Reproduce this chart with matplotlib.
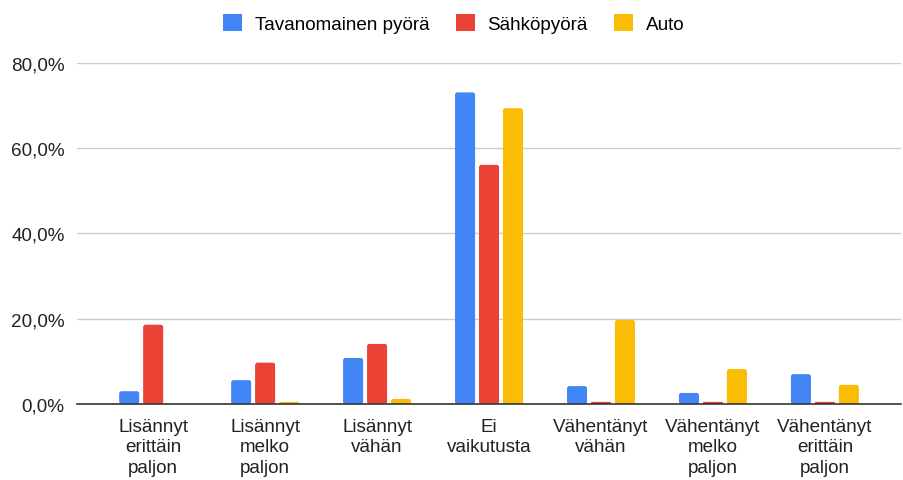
import numpy as np
import matplotlib.pyplot as plt
from matplotlib.patches import FancyBboxPatch
from matplotlib.ticker import FuncFormatter

plt.rcParams['font.family'] = ['Liberation Sans', 'DejaVu Sans']

categories = ['Lisännyt\nerittäin\npaljon', 'Lisännyt\nmelko\npaljon', 'Lisännyt\nvähän',
              'Ei\nvaikutusta', 'Vähentänyt\nvähän', 'Vähentänyt\nmelko\npaljon',
              'Vähentänyt\nerittäin\npaljon']
tavanomainen = [3.0, 5.6, 10.8, 73.1, 4.2, 2.6, 7.0]
sahko = [18.6, 9.7, 14.1, 56.1, 0.5, 0.5, 0.5]
auto = [0.0, 0.5, 1.2, 69.4, 19.7, 8.2, 4.5]
series_names = ['Tavanomainen pyörä', 'Sähköpyörä', 'Auto']
colors = ['#4285F4', '#EA4335', '#FBBC04']

fig = plt.figure(figsize=(9.04, 4.81), dpi=100)
ax = fig.add_axes([0.0852, 0.158, 0.9115, 0.709])

x = np.arange(len(categories))
w = 0.179
step = 0.214
aspect = 26.3  # y units per x unit on screen, for round corners
for i, (vals, name, c) in enumerate(zip([tavanomainen, sahko, auto], series_names, colors)):
    bars = ax.bar(x + (i - 1) * step, vals, width=w, color=c, label=name, zorder=3)
    # swap plain rectangles for slightly rounded ones
    for b in bars:
        h = b.get_height()
        if h <= 0:
            continue
        r = min(0.022, h / aspect / 2)
        fb = FancyBboxPatch((b.get_x(), b.get_y()), b.get_width(), h,
                            boxstyle=f'round,pad=0,rounding_size={r}',
                            mutation_aspect=aspect, facecolor=c, edgecolor='none', zorder=3)
        ax.add_patch(fb)
        b.set_visible(False)

ax.set_xlim(-0.68, 6.68)
ax.set_ylim(0, 80)
ax.set_yticks([0, 20, 40, 60, 80])
ax.yaxis.set_major_formatter(FuncFormatter(lambda v, p: f'{v:.1f}%'.replace('.', ',')))
ax.set_xticks(x)
ax.set_xticklabels(categories, fontsize=13.6, color='#222222', linespacing=1.27)
ax.tick_params(axis='y', labelsize=13.6, labelcolor='#222222', length=0, pad=9)
ax.tick_params(axis='x', length=0, pad=10)
ax.grid(axis='y', color='#cccccc', linewidth=1, zorder=0)
for s in ['top', 'right', 'left']:
    ax.spines[s].set_visible(False)
ax.spines['bottom'].set_color('#333333')
ax.spines['bottom'].set_linewidth(1.2)
ax.spines['bottom'].set_zorder(4)

leg = fig.legend(loc='upper center', bbox_to_anchor=(0.502, 1.005), ncol=3, frameon=False,
                 fontsize=13.6, handlelength=1.0, handleheight=1.0, columnspacing=1.37,
                 handletextpad=0.69)
for hnd in leg.legend_handles:
    hnd.set_visible(True)

fig.savefig('out.png', dpi=100)
